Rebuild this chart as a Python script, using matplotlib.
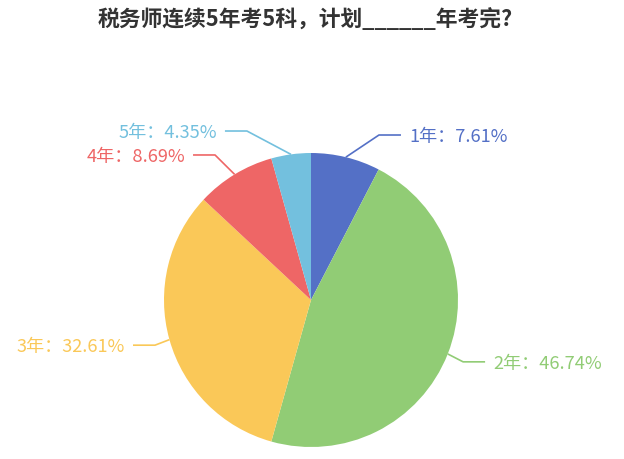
import numpy as np
import matplotlib
matplotlib.use("Agg")
import matplotlib.pyplot as plt

plt.rcParams['font.family'] = ['Noto Sans CJK SC', 'DejaVu Sans']

# ---- data ----
title = "税务师连续5年考5科，计划______年考完?"
categories = ["1年", "2年", "3年", "4年", "5年"]
values = [7.61, 46.74, 32.61, 8.69, 4.35]
colors = ["#5470c6", "#91cc75", "#fac858", "#ee6666", "#73c0de"]

# ---- layout (pixels) ----
W, H = 624, 459
cx, cy, R = 311, 300, 147
len1 = 15
len2 = 22
gap = 8
# label elbow nudges (dx, dy) in pixels, like echarts overlap avoidance
nudges = [(29.6, -7.6), (1.4, 2.4), (0, 1.5), (-11.8, -6.6), (-42, -8.5)]

fig = plt.figure(figsize=(W / 100, H / 100), dpi=100)
ax = fig.add_axes([0, 0, 1, 1])
ax.set_xlim(0, W)
ax.set_ylim(0, H)
ax.axis('off')

def Y(y):
    return H - y

ax.pie(values, colors=colors, startangle=90, counterclock=False,
       center=(cx, Y(cy)), radius=R, wedgeprops=dict(linewidth=0))
ax.set_xlim(0, W)
ax.set_ylim(0, H)
ax.set_aspect('equal')

total = sum(values)
cum = 0
for cat, v, col, (ndx, ndy) in zip(categories, values, colors, nudges):
    mid = (cum + v / 2) / total * 2 * np.pi
    cum += v
    sx, sy = np.sin(mid), -np.cos(mid)
    p0 = (cx + R * sx, cy + R * sy)
    p1 = (cx + (R + len1) * sx + ndx, cy + (R + len1) * sy + ndy)
    side = 1 if sx >= 0 else -1
    p2 = (p1[0] + side * len2, p1[1])
    ax.plot([p0[0], p1[0], p2[0]], [Y(p0[1]), Y(p1[1]), Y(p2[1])],
            color=col, lw=1.2, solid_capstyle='butt')
    ax.text(p2[0] + side * gap, Y(p2[1]), f"{cat}：{v:.2f}%",
            color=col, fontsize=13.1, ha='left' if side > 0 else 'right',
            va='center_baseline')

fig.text(305.5 / W, 1 - 19.5 / H, title, ha='center', va='center',
         fontsize=15.7, fontweight='bold', color='#333333')

fig.savefig("out.png", dpi=100)
